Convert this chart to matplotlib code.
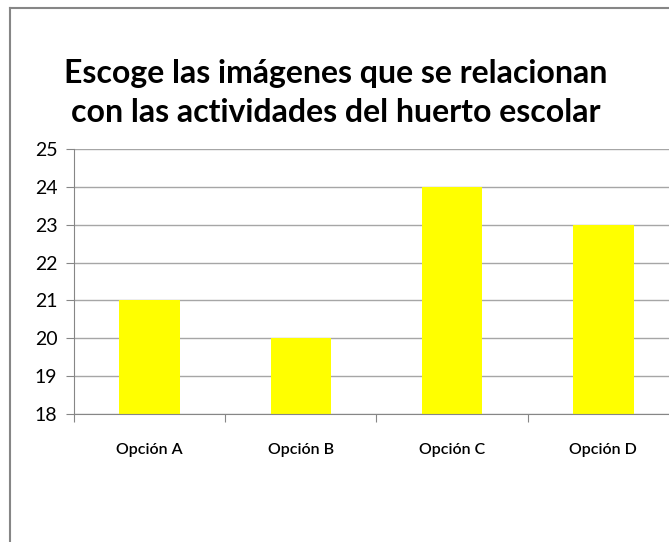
import matplotlib.pyplot as plt
from matplotlib.lines import Line2D

categories = ["Opción A", "Opción B", "Opción C", "Opción D"]
values = [21, 20, 24, 23]
title = "Escoge las imágenes que se relacionan\ncon las actividades del huerto escolar"

plt.rcParams['font.family'] = ['Lato', 'DejaVu Sans']

fig = plt.figure(figsize=(6.69, 5.42), dpi=100)
ax = fig.add_axes([74 / 669, 1 - 414 / 542, 605 / 669, 265 / 542])

x = list(range(len(categories)))
ax.bar(x, values, width=0.4, color="#ffff00", zorder=2)
ax.set_ylim(18, 25)
ax.set_xlim(-0.5, len(categories) - 0.5)
ax.set_yticks(range(18, 26))
ax.grid(axis="y", color="#a6a6a6", linewidth=1, zorder=0)

# ticks at category boundaries, labels at centers
ax.set_xticks([i - 0.5 for i in range(len(categories) + 1)])
ax.set_xticklabels([])
ax.set_xticks(x, minor=True)
ax.set_xticklabels(categories, minor=True, fontsize=11.5, fontweight="semibold")
ax.tick_params(axis="x", which="minor", length=0, pad=21)
ax.tick_params(axis="x", which="major", length=6, color="#868686", direction="out")
ax.tick_params(axis="y", length=6, color="#868686", labelsize=14, pad=6)

for s in ["top", "right"]:
    ax.spines[s].set_visible(False)
for s in ["left", "bottom"]:
    ax.spines[s].set_color("#868686")

fig.text(336 / 669, 1 - 93 / 542, title, ha="center", va="center",
         fontsize=23, fontweight="bold", linespacing=1.4)

# chart border (only left and top are in view)
fig.add_artist(Line2D([10 / 669, 10 / 669], [0, 1 - 8 / 542], color="#868686", linewidth=1.5))
fig.add_artist(Line2D([10 / 669, 1], [1 - 8 / 542, 1 - 8 / 542], color="#868686", linewidth=1.5))

fig.savefig("out.png", dpi=100)
